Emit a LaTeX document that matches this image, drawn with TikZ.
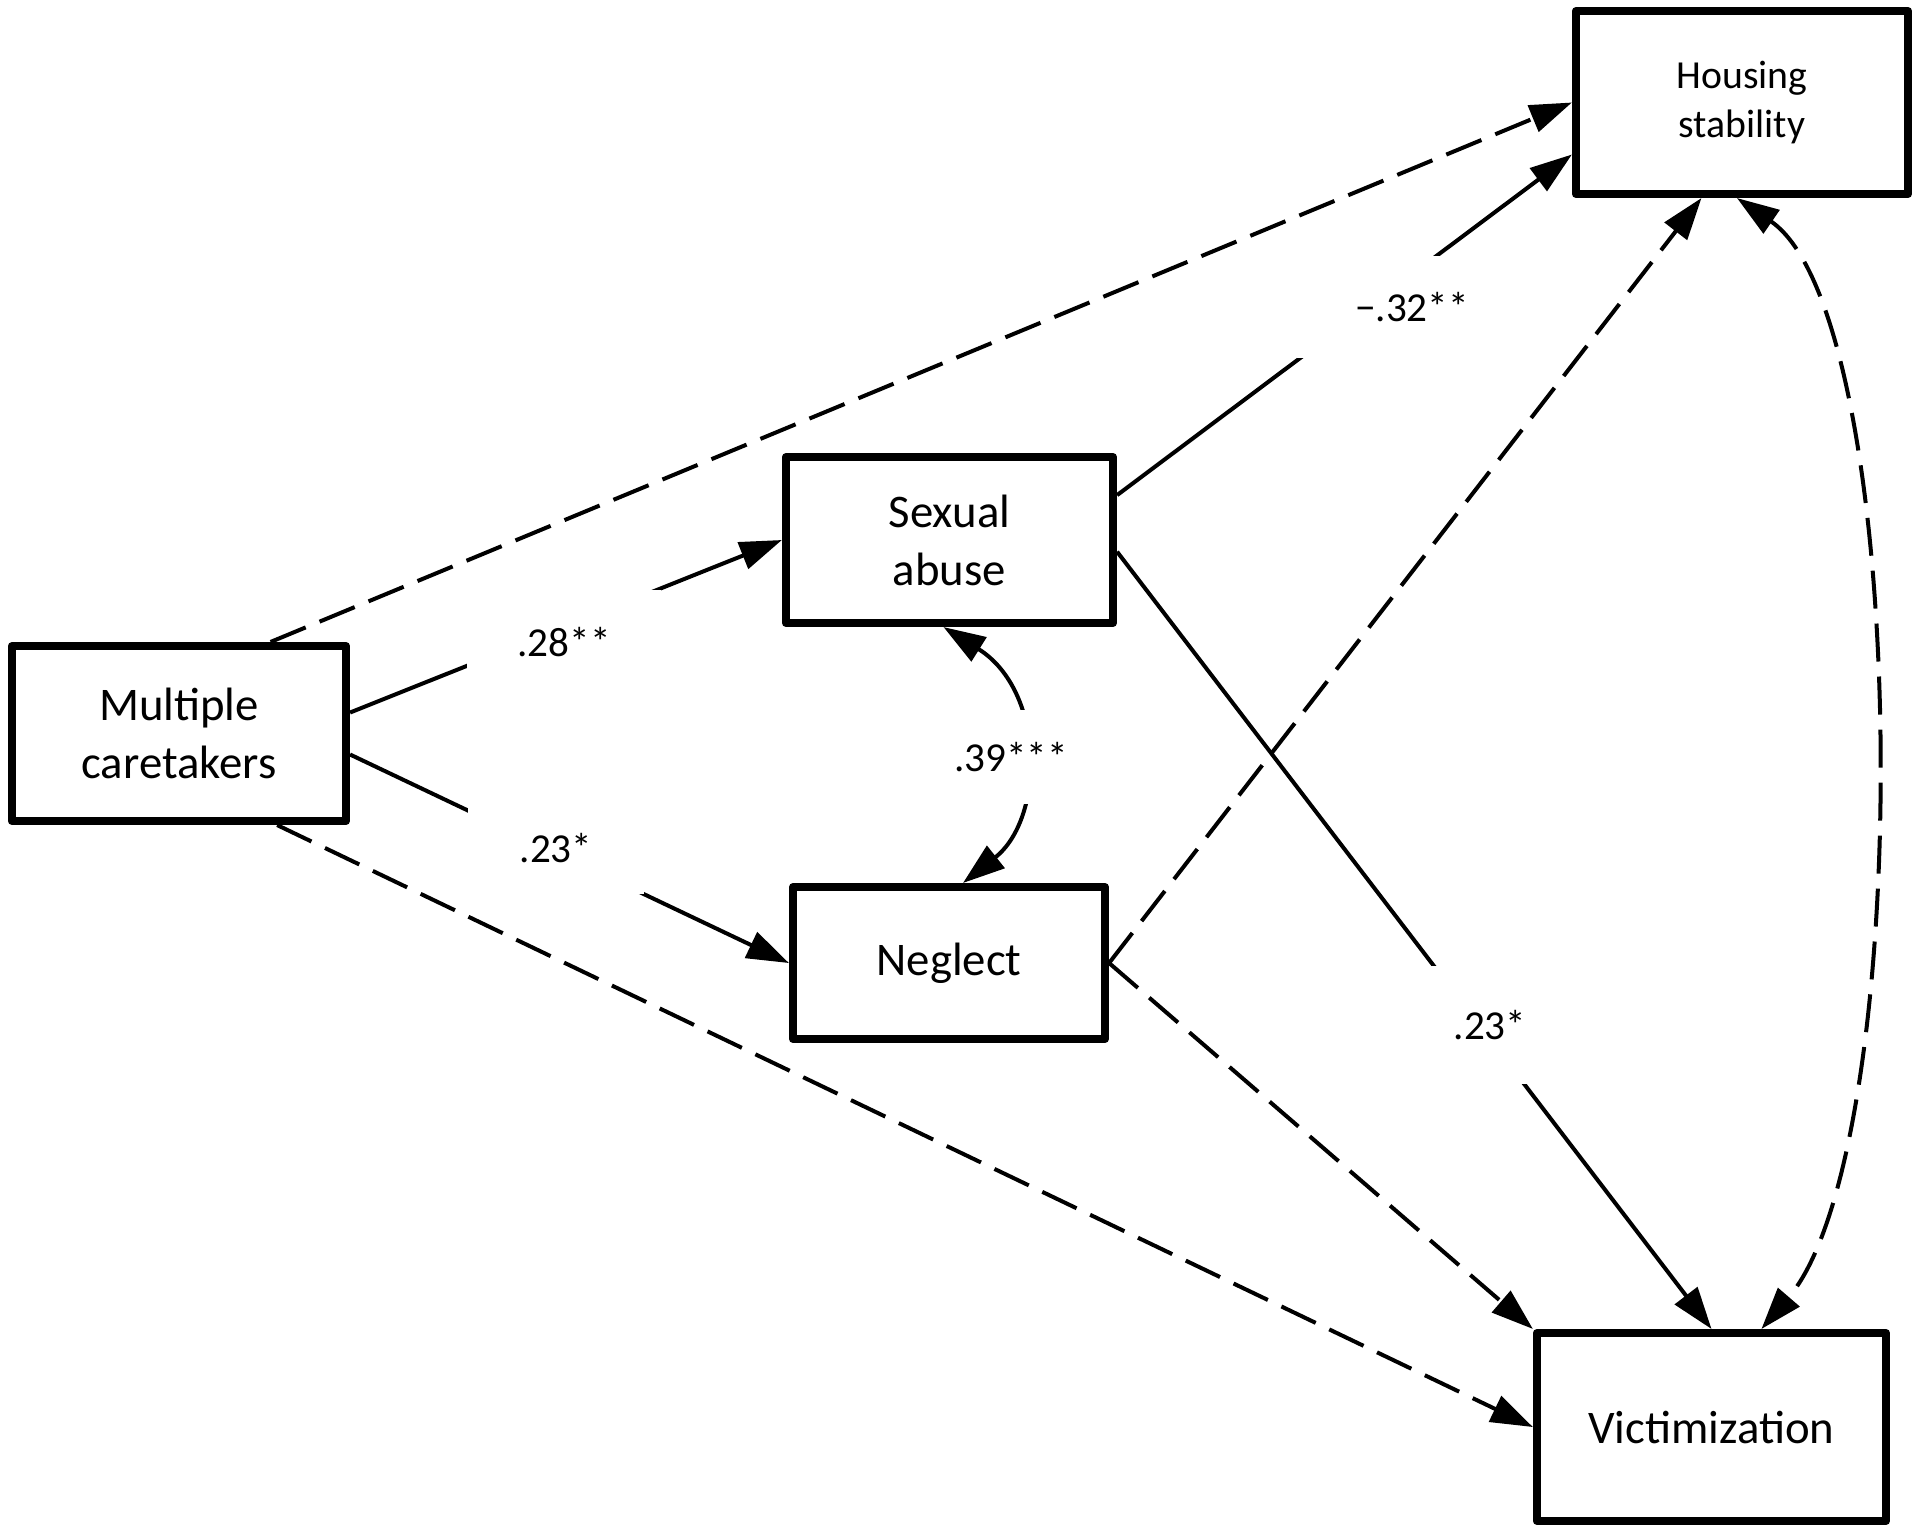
\documentclass[tikz,border=0pt]{standalone}
\usepackage{fontspec}
\setmainfont{Carlito}
\usetikzlibrary{arrows.meta}
\tikzstyle{varbox} = [rectangle, draw=black, line width=0.08cm, line join=round, align=center, font=\fontsize{13.3}{16.5}\selectfont]
\tikzstyle{coef} = [rectangle, fill=white, inner sep=0pt, font=\fontsize{11.7}{14}\selectfont]
\tikzstyle{arrow} = [line width=0.04cm, -{Triangle[length=0.42cm,width=0.28cm]}]
\tikzstyle{twoway} = [line width=0.04cm, {Triangle[length=0.42cm,width=0.28cm]}-{Triangle[length=0.42cm,width=0.28cm]}]
\tikzstyle{ns} = [dash pattern=on 0.38cm off 0.15cm]

\begin{document}
\begin{tikzpicture}[x=0.01cm, y=-0.01cm]
\useasboundingbox (0,0) rectangle (1920,1535);

\node(mult) [varbox, minimum width=3.34cm, minimum height=1.75cm] at (179,733.5) {Multiple\\caretakers};
\node(sex)  [varbox, minimum width=3.27cm, minimum height=1.66cm] at (949.5,540) {Sexual\\abuse~};
\node(negl) [varbox, minimum width=3.12cm, minimum height=1.52cm] at (949,963) {Neglect};
\node(hous) [varbox, minimum width=3.32cm, minimum height=1.83cm, font=\fontsize{11.3}{14.2}\selectfont] at (1742,102.5) {Housing\\stability};
\node(vict) [varbox, minimum width=3.49cm, minimum height=1.88cm] at (1711.5,1427) {Victimization};

\draw [arrow, ns] (mult.45) -- (hous.west);
\draw [arrow] (mult.7) -- (sex.west);
\draw [arrow] (mult.-7) -- (negl.west);
\draw [arrow, ns] (mult.-43) -- (vict.west);
\draw [arrow] (sex.15) -- (hous.197);
\draw [arrow] (sex.-4.5) -- (vict.north);
\draw [arrow, ns] (negl.east) -- (hous.-113);
\draw [arrow, ns] (negl.east) -- (vict.north west);
\draw [twoway] ([xshift=-0.06cm]sex.south) .. controls +(102,64) and +(82,-65) .. ([xshift=0.14cm]negl.north);
\draw [twoway, ns] ([xshift=-0.05cm]hous.south) .. controls +(175,120) and +(155,-180) .. (vict.63);

% coefficients
\node(c28)  [coef, minimum width=1.93cm, minimum height=1.04cm] at (564,642) {.28**};
\node(c23a) [coef, minimum width=1.76cm, minimum height=0.92cm] at (556,848) {.23*};
\node(c32)  [coef, minimum width=2.30cm, minimum height=1.02cm] at (1412,307) {−.32**};
\node(c23b) [coef, minimum width=1.20cm, minimum height=1.17cm] at (1490,1025) {.23*};
\node(c39)  [coef, minimum width=1.20cm, minimum height=0.93cm] at (1011,757) {.39***};

\end{tikzpicture}
\end{document}
